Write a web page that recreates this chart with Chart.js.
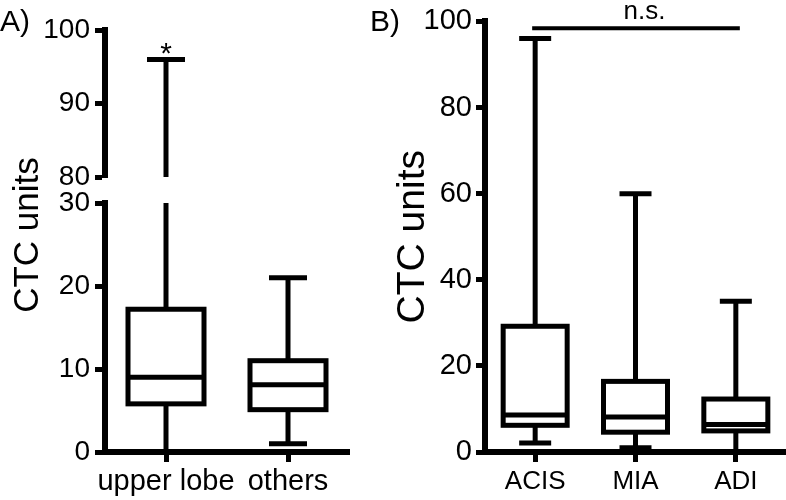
<!DOCTYPE html>
<html>
<head>
<meta charset="utf-8">
<script src="https://cdn.jsdelivr.net/npm/chart.js@4.4.1/dist/chart.umd.min.js"></script>
<style>
  body { margin: 0; background: #fff; }
  #wrap { position: relative; width: 786px; height: 500px; overflow: hidden;
          font-family: 'Liberation Sans', Arial, sans-serif; color: #000; }
  canvas { position: absolute; }
  .lbl { position: absolute; white-space: nowrap; line-height: 1; }
</style>
</head>
<body>
<div id="wrap">
  <canvas id="topA" width="360" height="200" style="left:0;top:0"></canvas>
  <canvas id="bottomA" width="360" height="320" style="left:0;top:180px"></canvas>
  <canvas id="chartB" width="406" height="500" style="left:380px;top:0"></canvas>
  <div class="lbl" style="left:0;top:6px;font-size:30px">A)</div>
  <div class="lbl" style="left:370px;top:6px;font-size:30px">B)</div>
  <div class="lbl" style="left:25px;top:235px;font-size:35px;transform:translate(-50%,-50%) rotate(-90deg)">CTC units</div>
</div>
<script>
// panel A: lobe location
const groupsA = ['upper lobe', 'others'];
const minA = [0, 1.0];
const q1A = [5.8, 5.1];
const medA = [9.0, 8.1];
const q3A = [17.2, 11.0];
const maxA = [96, 21];
const ticksTopA = [80, 90, 100];
const ticksBottomA = [0, 10, 20, 30];

// panel B: histologic type
const groupsB = ['ACIS', 'MIA', 'ADI'];
const minB = [2.1, 1.0, 0];
const q1B = [6.2, 4.6, 4.9];
const medB = [8.6, 8.1, 6.4];
const q3B = [29.2, 16.4, 12.3];
const maxB = [96, 60, 35];
const ticksB = [0, 20, 40, 60, 80, 100];
const nsLevel = 98.4;

const fontA = { family: 'Liberation Sans', size: 28 };
const fontB = { family: 'Liberation Sans', size: 29 };

// box plot outlines, whiskers and caps drawn on top of the white bars
const boxPlotLines = {
  id: 'boxPlotLines',
  afterDatasetsDraw(chart) {
    const ds = chart.data.datasets[0];
    const bars = chart.getDatasetMeta(0).data;
    const y = chart.scales.y;
    const ctx = chart.ctx;
    const lo = y.min, hi = y.max;
    const py = v => y.getPixelForValue(Math.min(hi, Math.max(lo, v)));
    const inside = v => v >= lo && v <= hi;
    ctx.save();
    ctx.strokeStyle = '#000';
    ctx.lineWidth = 5;
    ctx.lineJoin = 'miter';
    function line(x1, y1, x2, y2) {
      if (x1 === x2 && y1 === y2) return;
      ctx.beginPath();
      ctx.moveTo(x1, y1);
      ctx.lineTo(x2, y2);
      ctx.stroke();
    }
    bars.forEach((bar, i) => {
      const x = bar.x, w = bar.width, half = w / 2, cap = w / 4;
      // whiskers
      line(x, py(ds.q3s[i]), x, py(ds.maxs[i]));
      line(x, py(ds.mins[i]), x, py(ds.q1s[i]));
      if (inside(ds.maxs[i])) line(x - cap, py(ds.maxs[i]), x + cap, py(ds.maxs[i]));
      if (inside(ds.mins[i])) line(x - cap, py(ds.mins[i]), x + cap, py(ds.mins[i]));
      // box
      if (ds.q3s[i] > lo && ds.q1s[i] < hi) {
        const top = py(ds.q3s[i]), bottom = py(ds.q1s[i]);
        ctx.strokeRect(x - half, top, w, bottom - top);
      }
      if (inside(ds.meds[i])) line(x - half, py(ds.meds[i]), x + half, py(ds.meds[i]));
    });
    ctx.restore();
  }
};

const starPlugin = {
  id: 'star',
  afterDatasetsDraw(chart) {
    const ctx = chart.ctx;
    const bar = chart.getDatasetMeta(0).data[0];
    const yTop = chart.scales.y.getPixelForValue(maxA[0]);
    ctx.save();
    ctx.fillStyle = '#000';
    ctx.font = '30px Liberation Sans';
    ctx.textAlign = 'center';
    ctx.textBaseline = 'alphabetic';
    ctx.fillText('*', bar.x, yTop + 4);
    ctx.restore();
  }
};

const nsPlugin = {
  id: 'ns',
  afterDraw(chart) {
    const ctx = chart.ctx;
    const bars = chart.getDatasetMeta(0).data;
    const y = chart.scales.y.getPixelForValue(nsLevel);
    const x1 = bars[0].x, x2 = bars[bars.length - 1].x;
    ctx.save();
    ctx.strokeStyle = '#000';
    ctx.lineWidth = 4;
    ctx.beginPath();
    ctx.moveTo(x1 - 3, y);
    ctx.lineTo(x2 + 4, y);
    ctx.stroke();
    ctx.fillStyle = '#000';
    ctx.font = '26px Liberation Sans';
    ctx.textAlign = 'center';
    ctx.textBaseline = 'alphabetic';
    ctx.fillText('n.s.', (x1 + x2) / 2 + 9, y - 9);
    ctx.restore();
  }
};

function boxDataset(mins, q1s, meds, q3s, maxs, thickness) {
  return {
    data: q1s.map((q, i) => [q, q3s[i]]),
    mins: mins, q1s: q1s, meds: meds, q3s: q3s, maxs: maxs,
    backgroundColor: '#fff',
    borderWidth: 0,
    barThickness: thickness,
    clip: 0
  };
}

function yAxis(min, max, ticks, font, tickLen, pad, width) {
  return {
    min: min,
    max: max,
    afterBuildTicks: axis => { axis.ticks = ticks.map(v => ({ value: v })); },
    afterFit: axis => { axis.width = width; },
    grid: { drawOnChartArea: false, drawTicks: true, tickLength: tickLen, tickWidth: 5, tickColor: '#000' },
    border: { display: true, width: 6, color: '#000' },
    ticks: { font: font, color: '#000', padding: pad }
  };
}

function xAxis(font, height, pad) {
  return {
    offset: true,
    afterFit: axis => { axis.height = height; },
    grid: { offset: false, drawOnChartArea: false, drawTicks: true, tickLength: 10, tickWidth: 5, tickColor: '#000' },
    border: { display: true, width: 6, color: '#000' },
    ticks: { font: font, color: '#000', padding: pad, maxRotation: 0, minRotation: 0, autoSkip: false }
  };
}

const common = {
  responsive: false,
  animation: false,
  events: [],
  plugins: { legend: { display: false }, tooltip: { enabled: false } }
};

// panel A, upper part of the broken axis (80-100)
new Chart(document.getElementById('topA'), {
  type: 'bar',
  data: { labels: groupsA, datasets: [boxDataset(minA, q1A, medA, q3A, maxA, 76)] },
  options: Object.assign({}, common, {
    layout: { padding: { top: 30, bottom: 23, left: 0, right: 11 } },
    scales: {
      x: { display: false, offset: true },
      y: yAxis(80, 100, ticksTopA, fontA, 10, 5, 105)
    }
  }),
  plugins: [boxPlotLines, starPlugin]
});

// panel A, lower part (0-30)
new Chart(document.getElementById('bottomA'), {
  type: 'bar',
  data: { labels: groupsA, datasets: [boxDataset(minA, q1A, medA, q3A, maxA, 76)] },
  options: Object.assign({}, common, {
    layout: { padding: { top: 23, bottom: 0, left: 0, right: 11 } },
    scales: {
      x: xAxis({ family: 'Liberation Sans', size: 29 }, 48, 3),
      y: yAxis(0, 30, ticksBottomA, fontA, 10, 5, 105)
    }
  }),
  plugins: [boxPlotLines]
});

// panel B
const yB = yAxis(0, 100, ticksB, fontB, 9, 4, 105);
yB.title = {
  display: true,
  text: 'CTC units',
  color: '#000',
  font: { family: 'Liberation Sans', size: 39 },
  padding: { top: 10, bottom: 0 }
};
new Chart(document.getElementById('chartB'), {
  type: 'bar',
  data: { labels: groupsB, datasets: [boxDataset(minB, q1B, medB, q3B, maxB, 64)] },
  options: Object.assign({}, common, {
    layout: { padding: { top: 20, bottom: 0, left: 0, right: 0 } },
    scales: {
      x: xAxis({ family: 'Liberation Sans', size: 26 }, 48, 4),
      y: yB
    }
  }),
  plugins: [boxPlotLines, nsPlugin]
});
</script>
</body>
</html>
